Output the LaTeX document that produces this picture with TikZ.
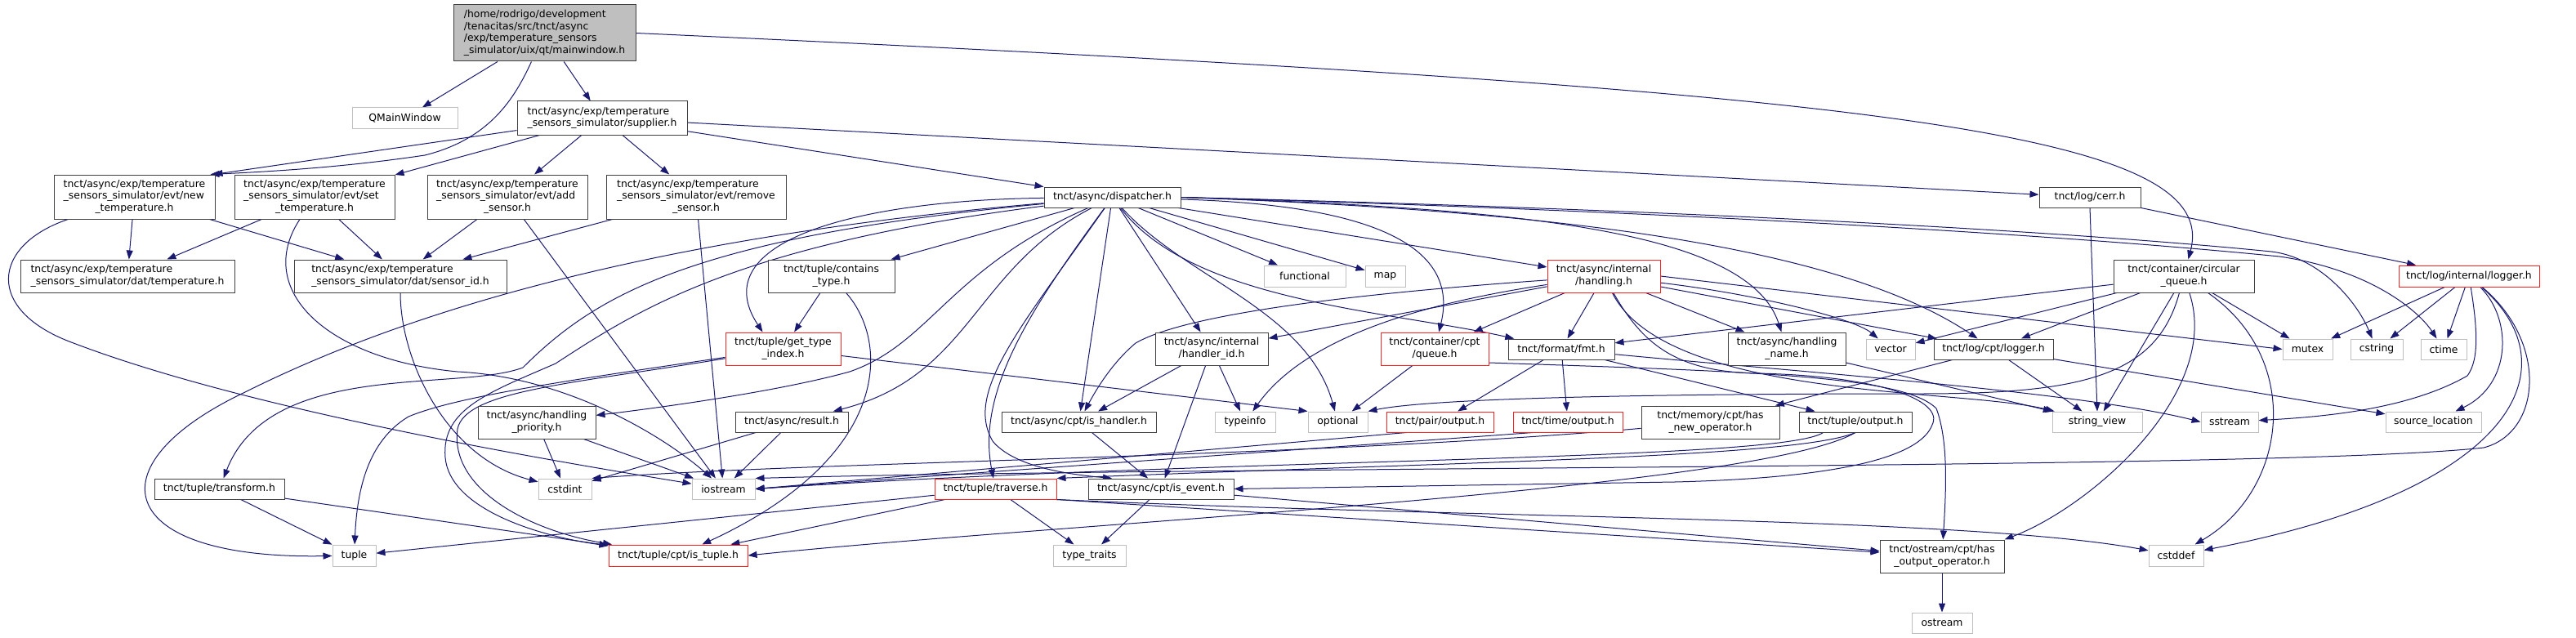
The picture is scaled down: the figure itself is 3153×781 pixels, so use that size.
\documentclass[tikz,border=0pt]{standalone}
\usepackage{fontspec}
\setmainfont{DejaVu Sans}
\usetikzlibrary{arrows.meta}
\definecolor{edgec}{HTML}{191970}
\definecolor{bkc}{HTML}{404040}
\definecolor{rdc}{HTML}{FF2020}
\definecolor{grc}{HTML}{BFBFBF}
\newcommand{\twol}[2]{\begin{tabular}{@{}l@{}}#1\\\multicolumn{1}{@{}c@{}}{#2}\end{tabular}}
\newcommand{\threel}[3]{\begin{tabular}{@{}l@{}}#1\\#2\\\multicolumn{1}{@{}c@{}}{#3}\end{tabular}}
\newcommand{\fourl}[4]{\begin{tabular}{@{}l@{}}#1\\#2\\#3\\\multicolumn{1}{@{}c@{}}{#4}\end{tabular}}
\newcommand{\bx}[6]{\node[#1, minimum width=#4pt, minimum height=#5pt] (#2) at (#3) {#6};}
\pgfdeclarelayer{back}
\pgfdeclarelayer{edges}
\pgfsetlayers{back,edges,main}
\begin{document}
\begin{tikzpicture}[x=1pt,y=-1pt,
  nd/.style={draw=bkc, line width=1pt, fill=white, inner sep=0pt, font=\fontsize{12.4}{14.5}\selectfont, text=black},
  ndred/.style={nd, draw=rdc},
  ndgray/.style={nd, draw=grc},
  ndmain/.style={nd, fill=grc},
  lnk/.style={draw=edgec, line width=1pt, -{Triangle[length=11pt,width=8pt]}}]
\begin{pgfonlayer}{back}
\fill[white] (0,0) rectangle (3153,781);
\end{pgfonlayer}
\useasboundingbox (0,0) rectangle (3153,781);

\bx{ndmain}{main}{666.5,40.5}{223}{69}{\fourl{/home/rodrigo/development}{/tenacitas/src/tnct/async}{/exp/temperature\_sensors}{\_simulator/uix/qt/mainwindow.h}}
\bx{ndgray}{qmain}{495.5,144.5}{129}{25}{QMainWindow}
\bx{nd}{supplier}{737,144.5}{208}{41}{\twol{tnct/async/exp/temperature}{\_sensors\_simulator/supplier.h}}
\bx{nd}{newtemp}{164.5,241}{197}{54}{\threel{tnct/async/exp/temperature}{\_sensors\_simulator/evt/new}{\_temperature.h}}
\bx{nd}{settemp}{385,241}{196}{54}{\threel{tnct/async/exp/temperature}{\_sensors\_simulator/evt/set}{\_temperature.h}}
\bx{nd}{addsensor}{621,241}{196}{54}{\threel{tnct/async/exp/temperature}{\_sensors\_simulator/evt/add}{\_sensor.h}}
\bx{nd}{remsensor}{852,241}{220}{54}{\threel{tnct/async/exp/temperature}{\_sensors\_simulator/evt/remove}{\_sensor.h}}
\bx{nd}{dattemp}{156,338}{262}{40}{\twol{tnct/async/exp/temperature}{\_sensors\_simulator/dat/temperature.h}}
\bx{nd}{sensorid}{490,338}{260}{40}{\twol{tnct/async/exp/temperature}{\_sensors\_simulator/dat/sensor\_id.h}}
\bx{nd}{contains}{1017.5,338}{155}{40}{\twol{tnct/tuple/contains}{\_type.h}}
\bx{nd}{dispatcher}{1361.5,241.5}{167}{25}{tnct/async/dispatcher.h}
\bx{ndgray}{functional}{1597,338}{100}{26}{functional}
\bx{ndgray}{map}{1695.5,338}{49}{26}{map}
\bx{ndred}{handling}{1963,338}{138}{40}{\twol{tnct/async/internal}{/handling.h}}
\bx{nd}{cerr}{2558,241.5}{124}{25}{tnct/log/cerr.h}
\bx{nd}{circq}{2673,338}{172}{40}{\twol{tnct/container/circular}{\_queue.h}}
\bx{ndred}{loginternal}{3022,338}{172}{26}{tnct/log/internal/logger.h}
\bx{ndred}{gettype}{958.5,427}{141}{40}{\twol{tnct/tuple/get\_type}{\_index.h}}
\bx{nd}{handprio}{657,517}{144}{40}{\twol{tnct/async/handling}{\_priority.h}}
\bx{nd}{result}{969,516.5}{138}{25}{tnct/async/result.h}
\bx{nd}{handlerid}{1483,427}{138}{40}{\twol{tnct/async/internal}{/handler\_id.h}}
\bx{nd}{ishandler}{1320.5,516.5}{189}{25}{tnct/async/cpt/is\_handler.h}
\bx{ndgray}{typeinfo}{1524,516.5}{74}{25}{typeinfo}
\bx{ndred}{cqueue}{1756,427}{132}{40}{\twol{tnct/container/cpt}{/queue.h}}
\bx{nd}{fmt}{1911,427.5}{130}{25}{tnct/format/fmt.h}
\bx{ndgray}{optional}{1637.5,516.5}{73}{25}{optional}
\bx{ndred}{pairout}{1762.5,516.5}{131}{25}{tnct/pair/output.h}
\bx{ndred}{timeout}{1919,516.5}{134}{25}{tnct/time/output.h}
\bx{nd}{hasnew}{2093.5,517}{169}{40}{\twol{tnct/memory/cpt/has}{\_new\_operator.h}}
\bx{nd}{handname}{2187,427}{144}{40}{\twol{tnct/async/handling}{\_name.h}}
\bx{ndgray}{vector}{2314,427.5}{60}{25}{vector}
\bx{nd}{loglogger}{2440,427.5}{146}{25}{tnct/log/cpt/logger.h}
\bx{nd}{tupleout}{2271,516.5}{138}{25}{tnct/tuple/output.h}
\bx{ndgray}{strview}{2567,516.5}{110}{25}{string\_view}
\bx{ndgray}{mutex}{2824.5,427.5}{61}{25}{mutex}
\bx{ndgray}{cstring}{2909,427.5}{64}{25}{cstring}
\bx{ndgray}{ctime}{2991,427.5}{56}{25}{ctime}
\bx{ndgray}{sstream}{2729,516.5}{70}{25}{sstream}
\bx{ndgray}{srcloc}{2978.5,516.5}{117}{25}{source\_location}
\bx{nd}{transform}{268.5,598.5}{159}{25}{tnct/tuple/transform.h}
\bx{ndgray}{tuple}{433.5,680}{53}{26}{tuple}
\bx{ndgray}{cstdint}{691.5,598.5}{65}{25}{cstdint}
\bx{ndgray}{iostream}{885.5,598.5}{77}{25}{iostream}
\bx{ndred}{istuple}{830,680}{170}{26}{tnct/tuple/cpt/is\_tuple.h}
\bx{ndred}{traverse}{1218.5,598.5}{149}{25}{tnct/tuple/traverse.h}
\bx{nd}{isevent}{1421,598.5}{178}{25}{tnct/async/cpt/is\_event.h}
\bx{ndgray}{typetraits}{1333.5,680}{89}{26}{type\_traits}
\bx{nd}{hasout}{2377,681}{152}{40}{\twol{tnct/ostream/cpt/has}{\_output\_operator.h}}
\bx{ndgray}{ostream}{2377,762.5}{74}{25}{ostream}
\bx{ndgray}{cstddef}{2663.5,680}{67}{26}{cstddef}

\begin{pgfonlayer}{edges}
% mainwindow
\draw[lnk] (main) -- (qmain);
\draw[lnk] (main) -- (supplier);
\draw[lnk] (main) .. controls (630,120) and (600,170) .. (520,190) .. controls (420,205) and (330,210) .. ([xshift=-6pt]newtemp.north east);
\draw[lnk] (main.east) .. controls (2300,110) and (2720,160) .. (circq);
% supplier
\draw[lnk] (supplier) -- ([xshift=-2pt]newtemp.north east);
\draw[lnk] (supplier) -- (settemp);
\draw[lnk] (supplier) -- (addsensor);
\draw[lnk] (supplier) -- (remsensor);
\draw[lnk] (supplier) -- (dispatcher);
\draw[lnk] (supplier) -- (cerr);
% events
\draw[lnk] (newtemp) -- (dattemp);
\draw[lnk] (newtemp) -- (sensorid);
\draw[lnk] (newtemp) .. controls (-10,300) and (-20,380) .. (90,420) .. controls (300,500) and (650,560) .. (iostream);
\draw[lnk] (settemp) -- (dattemp);
\draw[lnk] (settemp) -- (sensorid);
\draw[lnk] (settemp) .. controls (310,355) and (400,440) .. (560,455) .. controls (700,462) and (820,540) .. (iostream);
\draw[lnk] (addsensor) -- (sensorid);
\draw[lnk] (addsensor) -- (iostream);
\draw[lnk] (remsensor) -- (sensorid);
\draw[lnk] (remsensor) -- (iostream);
\draw[lnk] (sensorid) .. controls (490,440) and (545,560) .. (cstdint);
% contains / get_type
\draw[lnk] (contains) -- (gettype);
\draw[lnk] (contains) .. controls (1090,420) and (1090,560) .. (istuple);
\draw[lnk] (gettype) .. controls (700,465) and (560,485) .. (500,510) .. controls (450,540) and (437,600) .. (tuple);
\draw[lnk] (gettype) .. controls (700,470) and (570,478) .. (560,525) .. controls (550,600) and (650,650) .. (istuple);
\draw[lnk] (gettype) -- (optional.north west);
% dispatcher
\draw[lnk] (dispatcher) -- (contains);
\draw[lnk] (dispatcher) .. controls (1050,245) and (860,295) .. ([xshift=-25pt]gettype.north);
\draw[lnk] (dispatcher) .. controls (800,290) and (500,380) .. (300,480) .. controls (110,570) and (140,685) .. (tuple);
\draw[lnk] (dispatcher) .. controls (850,290) and (730,360) .. (640,450) .. controls (560,480) and (330,440) .. (transform);
\draw[lnk] (dispatcher) .. controls (900,300) and (780,380) .. (680,445) .. controls (600,480) and (540,500) .. (545,560) .. controls (550,620) and (650,655) .. (istuple);
\draw[lnk] (dispatcher) .. controls (1160,330) and (1140,420) .. (1040,455) .. controls (950,480) and (800,500) .. (handprio);
\draw[lnk] (dispatcher) .. controls (1190,330) and (1190,460) .. (result);
\draw[lnk] (dispatcher) .. controls (1260,380) and (1195,480) .. (traverse);
\draw[lnk] (dispatcher) .. controls (1250,400) and (1180,480) .. (1215,540) .. controls (1240,570) and (1300,580) .. ([xshift=-60pt]isevent.north);
\draw[lnk] (dispatcher) -- (ishandler);
\draw[lnk] (dispatcher) -- (handlerid);
\draw[lnk] (dispatcher) .. controls (1450,340) and (1600,380) .. (optional);
\draw[lnk] (dispatcher) .. controls (1460,370) and (1700,380) .. (fmt);
\draw[lnk] (dispatcher) -- (functional);
\draw[lnk] (dispatcher) -- (map);
\draw[lnk] (dispatcher) -- (handling);
\draw[lnk] (dispatcher) .. controls (1650,250) and (1790,290) .. (cqueue);
\draw[lnk] (dispatcher.east) .. controls (1850,255) and (2140,280) .. (handname);
\draw[lnk] (dispatcher.east) .. controls (1900,258) and (2250,300) .. (loglogger);
\draw[lnk] (dispatcher.east) .. controls (2000,255) and (2500,280) .. (2780,308) .. controls (2840,315) and (2885,370) .. (cstring);
\draw[lnk] (dispatcher.east) .. controls (2000,257) and (2500,285) .. (2790,314) .. controls (2900,330) and (2960,380) .. (ctime);
% handling
\draw[lnk] (handling) -- (handlerid);
\draw[lnk] (handling) .. controls (1650,360) and (1450,385) .. (1390,420) .. controls (1360,445) and (1340,480) .. (ishandler);
\draw[lnk] (handling) .. controls (1750,370) and (1600,410) .. (typeinfo);
\draw[lnk] (handling) -- (cqueue);
\draw[lnk] (handling) -- (fmt);
\draw[lnk] (handling) -- (handname);
\draw[lnk] (handling) .. controls (2150,360) and (2270,390) .. (vector);
\draw[lnk] (handling.east) -- (mutex.west);
\draw[lnk] (handling) -- (loglogger);
\draw[lnk] (handling) .. controls (2040,490) and (2400,475) .. (strview);
\draw[lnk] (handling) .. controls (2010,420) and (2050,455) .. (2150,457) .. controls (2300,460) and (2380,490) .. (2365,520) .. controls (2350,560) and (2250,585) .. (2050,590) -- (isevent.east);
% cerr
\draw[lnk] (cerr.south) -- (strview.north);
\draw[lnk] (cerr) -- (loginternal);
% circular queue
\draw[lnk] (circq) -- (fmt);
\draw[lnk] (circq) -- (loglogger);
\draw[lnk] (circq) -- (vector);
\draw[lnk] (circq) -- (mutex);
\draw[lnk] (circq) .. controls (2820,440) and (2800,600) .. (cstddef);
\draw[lnk] (circq) -- (strview);
\draw[lnk] (circq) .. controls (2720,480) and (2560,620) .. (hasout.north east);
\draw[lnk] (circq) .. controls (2640,460) and (2550,482) .. (2350,482) .. controls (2000,482) and (1750,488) .. (optional.north east);
% log cpt logger
\draw[lnk] (loglogger) -- (hasnew);
\draw[lnk] (loglogger) -- (strview);
\draw[lnk] (loglogger) -- (srcloc);
% log internal logger
\draw[lnk] (loginternal) -- (mutex);
\draw[lnk] (loginternal) -- (cstring);
\draw[lnk] (loginternal) -- (ctime);
\draw[lnk] (loginternal) .. controls (3032,400) and (3035,440) .. (3020,460) .. controls (2950,500) and (2850,510) .. (sstream);
\draw[lnk] (loginternal) .. controls (3075,390) and (3075,470) .. (srcloc);
\draw[lnk] (loginternal) .. controls (3120,420) and (3110,530) .. (3040,548) .. controls (2800,575) and (1500,570) .. (iostream.north east);
\draw[lnk] (loginternal) .. controls (3150,450) and (3080,600) .. (cstddef);
% fmt
\draw[lnk] (fmt) -- (pairout);
\draw[lnk] (fmt) -- (timeout);
\draw[lnk] (fmt) -- ([xshift=20pt]tupleout.north west);
\draw[lnk] (fmt) .. controls (2200,455) and (2550,480) .. (sstream.west);
% container cpt queue
\draw[lnk] (cqueue) -- (optional);
\draw[lnk] ([yshift=-17pt]cqueue.east) .. controls (2150,455) and (2330,460) .. (2370,500) .. controls (2385,540) and (2382,600) .. (hasout);
% tuple output, pair, time, memory
\draw[lnk] ([xshift=30pt]tupleout.south west) .. controls (2180,565) and (1500,560) .. (iostream.east);
\draw[lnk] (tupleout.south) .. controls (2200,560) and (1800,565) .. (traverse.north east);
\draw[lnk] (tupleout.south) .. controls (2150,600) and (1300,640) .. (istuple.east);
\draw[lnk] ([xshift=25pt]pairout.south west) -- (iostream.east);
\draw[lnk] ([xshift=25pt]timeout.south west) -- (iostream.east);
\draw[lnk] (hasnew) .. controls (1600,560) and (1000,565) .. (cstdint.north east);
\draw[lnk] (handname) -- (strview);
% handler id etc.
\draw[lnk] (handlerid) -- (ishandler);
\draw[lnk] (handlerid) -- (isevent);
\draw[lnk] (handlerid) -- (typeinfo);
\draw[lnk] (ishandler) -- (isevent);
\draw[lnk] (isevent) -- (typetraits);
\draw[lnk] (isevent) -- (hasout);
\draw[lnk] (traverse) -- (tuple);
\draw[lnk] (traverse) -- (istuple);
\draw[lnk] (traverse) -- (typetraits);
\draw[lnk] (traverse.south east) -- (hasout);
\draw[lnk] (traverse.south east) .. controls (1800,635) and (2400,632) .. (cstddef);
\draw[lnk] (result) -- (cstdint);
\draw[lnk] (result) -- (iostream);
\draw[lnk] (handprio) -- (cstdint);
\draw[lnk] (handprio) -- (iostream);
\draw[lnk] (transform) -- (tuple);
\draw[lnk] (transform) -- (istuple);
\draw[lnk] (hasout) -- (ostream);
\end{pgfonlayer}
\end{tikzpicture}
\end{document}
